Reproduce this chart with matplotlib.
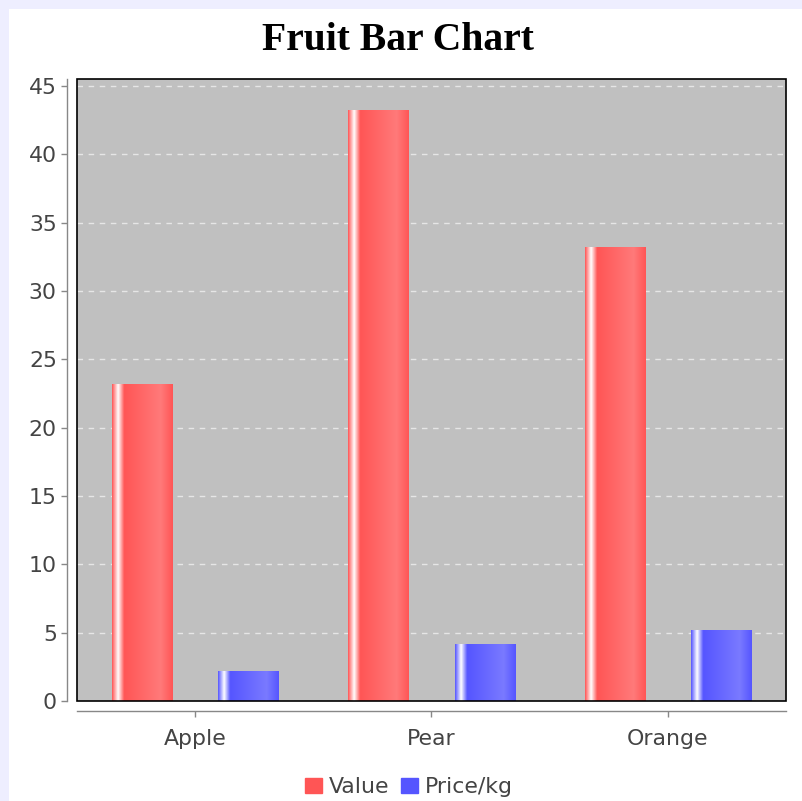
import matplotlib
matplotlib.use('Agg')
import matplotlib.pyplot as plt
import numpy as np
from matplotlib.patches import Rectangle, Patch
from matplotlib.colors import LinearSegmentedColormap

# Données du graphique
fruits = ["Apple", "Pear", "Orange"]
values = [23.2, 43.2, 33.2]
prices = [2.2, 4.2, 5.2]
series_names = ["Value", "Price/kg"]
y_ticks = [0, 5, 10, 15, 20, 25, 30, 35, 40, 45]

plt.rcParams['font.family'] = ['DejaVu Sans Condensed', 'DejaVu Sans']

W, H = 802, 801
fig = plt.figure(figsize=(W / 100, H / 100), dpi=100, facecolor="#eeeeff")

# Panneau blanc du graphique (décalé comme dans l'original)
fig.patches.append(Rectangle((9 / W, 0), 1 - 9 / W, 1 - 9 / H,
                             transform=fig.transFigure, facecolor="white",
                             edgecolor="none", zorder=-5))

ax = fig.add_axes([77 / W, 1 - 701 / H, (786 - 77) / W, (701 - 79) / H])
ax.set_facecolor("#c0c0c0")

x = np.arange(len(fruits))
width = 0.254
offset = 0.225

red = "#ff5555"
blue = "#5555ff"


def gradient_cmap(base, light):
    # dégradé façon GradientBarPainter : reflet blanc à gauche
    return LinearSegmentedColormap.from_list(
        "g", [(0.0, base), (0.10, "white"), (0.20, base), (0.80, light), (1.0, base)])


def draw_bars(xs, ys, base, light):
    bars = ax.bar(xs, ys, width, color=base, zorder=3)
    grad = np.linspace(0, 1, 256).reshape(1, -1)
    cmap = gradient_cmap(base, light)
    for b in bars:
        x0, y0 = b.get_x(), b.get_y()
        im = ax.imshow(grad, cmap=cmap, aspect="auto", zorder=4,
                       extent=[x0, x0 + b.get_width(), y0, y0 + b.get_height()],
                       interpolation="bilinear")
        im.set_clip_path(b)


draw_bars(x - offset, values, red, "#ff7a7a")
draw_bars(x + offset, prices, blue, "#7a7aff")

ax.set_xlim(-0.5, 2.5)
ax.set_ylim(0, 45.5)

# Grille horizontale pointillée
ax.set_yticks(y_ticks)
ax.yaxis.grid(True, color="#e6e6e6", linestyle=(0, (4, 4)), linewidth=1.0, zorder=1)
ax.set_axisbelow(True)

# Axes décalés vers l'extérieur, gris
for s in ["top", "right"]:
    ax.spines[s].set_visible(False)
for s in ["left", "bottom"]:
    ax.spines[s].set_position(("outward", 7))
    ax.spines[s].set_color("#888888")
    ax.spines[s].set_linewidth(1.0)

# Cadre noir de la zone de tracé
ax.add_patch(Rectangle((0, 0), 1, 1, transform=ax.transAxes, fill=False,
                       edgecolor="black", linewidth=1.2, zorder=6, clip_on=False))

ax.set_xticks(x)
ax.set_xticklabels(fruits)
ax.tick_params(axis="both", colors="#888888", labelcolor="#444444",
               labelsize=15.8, length=4, width=1)
ax.tick_params(axis="y", pad=3.5)
ax.tick_params(axis="x", pad=9)

# Titre
fig.text(398 / W, 1 - 40 / H, "Fruit Bar Chart", ha="center", va="center",
         fontsize=28.5, fontweight="bold", family="Liberation Serif")

# Légende
handles = [Patch(color=red), Patch(color=blue)]
fig.legend(handles, series_names, loc="center", bbox_to_anchor=(409 / W, 1 - 787 / H),
           ncol=2, frameon=False, fontsize=15.8, labelcolor="#444444",
           handlelength=0.8, handleheight=0.7, handletextpad=0.32,
           columnspacing=0.5, borderpad=0)

fig.savefig("out.png", dpi=100, facecolor=fig.get_facecolor())
plt.close(fig)
